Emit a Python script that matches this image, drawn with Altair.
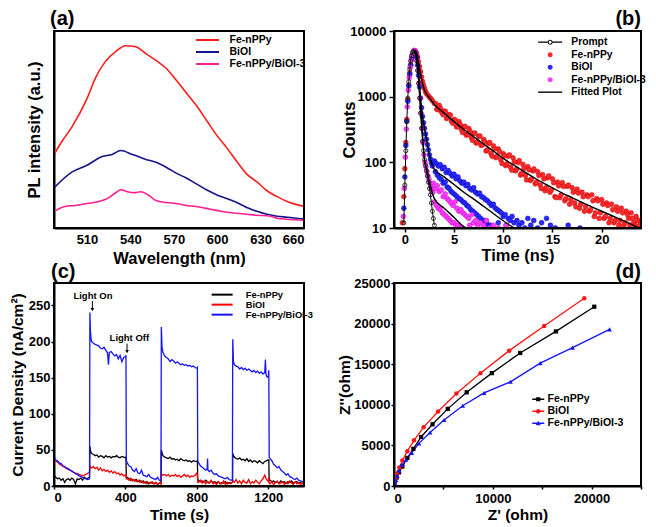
import altair as alt
import pandas as pd

FONT = "Liberation Sans"

# ---------------- (a) PL spectra ----------------
A_SERIES = ["Fe-nPPy", "BiOI", "Fe-nPPy/BiOI-3"]
A_COLORS = ["#ff1c1c", "#14148c", "#ff1f8e"]
A_FE_WL = [487.2, 492.5, 499.5, 510, 515.8, 522.8, 529.8, 536.7, 543.7, 550.7, 557.7, 564.7, 571.6,
           578.6, 585.6, 592.6, 599.5, 606.5, 613.5, 620.5, 627.5, 634.4, 641.4, 648.4, 660]
A_FE_I = [75, 88, 103, 132, 153, 170, 180, 186, 185, 178, 171, 163, 151, 138, 125, 110, 95, 82, 68,
          55, 47, 38, 32, 27, 22]
A_BI_WL = [487.2, 499.5, 510, 520.5, 527.4, 533.3, 541.4, 550.7, 557.7, 564.7, 571.6, 578.6, 585.6,
           592.6, 599.5, 606.5, 613.5, 620.5, 627.5, 634.4, 641.4, 648.4, 660]
A_BI_I = [41, 57, 64, 73, 75, 79, 75, 70, 67, 62, 56, 51, 45, 39, 34, 30, 26, 21, 17, 14, 12, 11, 9]
A_CO_WL = [487.2, 494.9, 501.9, 510, 518.1, 524, 529.8, 533.3, 537.9, 542.6, 547.2, 553, 557.7, 564.7,
           571.6, 578.6, 585.6, 592.6, 599.5, 606.5, 613.5, 620.5, 627.5, 636.8, 641.4, 648.4, 660]
A_CO_I = [17, 22, 23, 25, 27, 30, 36, 39, 37, 36, 37, 33, 28, 26, 25, 23, 22, 20, 18, 16, 15, 14, 13,
          12, 10, 9, 8]
A_XTICKS = [510, 540, 570, 600, 630, 660]
A_XDOM = [487.2, 660]
A_YDOM = [0, 201]

# ---------------- (b) TRPL decay ----------------
B_SERIES = ["Prompt", "Fe-nPPy", "BiOI", "Fe-nPPy/BiOI-3", "Fitted Plot"]
B_COLORS = ["#000000", "#ff2a2a", "#2a2aff", "#ff3cff", "#000000"]
B_FE_RISE_T = [-0.25, -0.1, 0.0, 0.1, 0.2, 0.3, 0.4, 0.5, 0.6, 0.7, 0.8, 0.9, 1.0, 1.1, 1.2, 1.3, 1.4,
               1.5, 1.6, 1.7, 1.8, 1.9, 2.0, 2.1, 2.2, 2.35, 2.5, 2.65, 2.8, 3.0]
B_FE_RISE_C = [12, 30, 80, 200, 450, 900, 1500, 2300, 3100, 3900, 4500, 4900, 5000, 4850, 4500, 4000,
               3400, 2850, 2400, 2000, 1700, 1500, 1330, 1200, 1120, 1050, 980, 930, 870, 790]
B_FE_T1 = [3.25, 3.5, 3.75, 4.0, 4.25, 4.5, 4.75, 5.0, 5.25, 5.5, 5.75, 6.0, 6.25, 6.5, 6.75, 7.0, 7.25,
           7.5, 7.75, 8.0, 8.25, 8.5, 8.75, 9.0, 9.25, 9.5, 9.75, 10.0, 10.25, 10.5, 10.75, 11.0, 11.25,
           11.5, 11.75, 12.0, 12.25, 12.5, 12.75, 13.0, 13.25, 13.5, 13.75, 14.0, 14.25, 14.5, 14.75,
           15.0, 15.25, 15.5, 15.75, 16.0, 16.25, 16.5, 16.75, 17.0, 17.25, 17.5, 17.75, 18.0, 18.25,
           18.5, 18.75, 19.0, 19.25, 19.5, 19.75, 20.0, 20.25, 20.5, 20.75, 21.0, 21.25, 21.5, 21.75,
           22.0, 22.25, 22.5, 22.75, 23.0, 23.25, 23.5, 23.75]
B_FE_C1 = [643, 733, 579, 603, 466, 531, 420, 447, 347, 417, 316, 347, 259, 327, 239, 275, 196, 248, 181,
           224, 149, 193, 137, 178, 118, 160, 109, 135, 89, 124, 84, 117, 74, 99, 64, 93, 63, 86, 53, 74,
           47, 72, 45, 65, 37, 58, 35, 56, 30, 50, 29, 49, 26, 43, 23, 41, 24, 39, 20, 35, 18, 32, 18, 32,
           15, 28, 14, 27, 14, 24, 12, 23, 12, 21, 11, 20, 11, 18, 14, 17, 12, 15, 13]
B_FE_T2 = [3.125, 3.375, 3.625, 3.875, 4.125, 4.375, 4.625, 4.875, 5.125, 5.375, 5.625, 5.875, 6.125,
           6.375, 6.625, 6.875, 7.125, 7.375, 7.625, 7.875, 8.125, 8.375, 8.625, 8.875, 9.125, 9.375,
           9.625, 9.875, 10.125, 10.375, 10.625, 10.875, 11.125, 11.375, 11.625, 11.875, 12.125, 12.375,
           12.625, 12.875, 13.125, 13.375, 13.625, 13.875, 14.125, 14.375, 14.625, 14.875, 15.125,
           15.375, 15.625, 15.875, 16.125, 16.375, 16.625, 16.875, 17.125, 17.375, 17.625, 17.875,
           18.125, 18.375, 18.625, 18.875, 19.125, 19.375, 19.625, 19.875, 20.125, 20.375, 20.625,
           20.875, 21.125, 21.375, 21.625, 21.875, 22.125, 22.375, 22.625, 22.875, 23.125, 23.375,
           23.625, 23.875]
B_FE_C2 = [783, 632, 659, 532, 594, 480, 524, 394, 442, 351, 376, 285, 352, 269, 296, 216, 279, 204, 252,
           184, 207, 155, 200, 124, 161, 123, 145, 96, 126, 95, 130, 76, 102, 79, 106, 68, 81, 54, 77, 56,
           79, 50, 63, 40, 56, 41, 62, 38, 49, 29, 44, 32, 43, 28, 45, 27, 35, 21, 34, 23, 30, 21, 30, 19,
           26, 17, 26, 17, 23, 15, 22, 14, 19, 13, 18, 13, 17, 12, 16, 11, 14, 11, 13, 11]
B_BI_T = [-0.1, 0.0, 0.1, 0.2, 0.3, 0.4, 0.5, 0.6, 0.7, 0.8, 0.9, 1.0, 1.1, 1.2, 1.3, 1.4, 1.5, 1.6, 1.7,
          1.8, 1.9, 2.0, 2.1, 2.2, 2.3, 2.4, 2.5, 2.6, 2.7, 2.8,
          3.0, 3.1, 3.2, 3.3, 3.4, 3.5, 3.6, 3.7, 3.8, 3.9, 4.0, 4.1, 4.2, 4.3, 4.4, 4.5, 4.6, 4.7, 4.8,
          4.9, 5.0, 5.1, 5.2, 5.3, 5.4, 5.5, 5.6, 5.7, 5.8, 5.9, 6.0, 6.1, 6.2, 6.3, 6.4, 6.5, 6.6, 6.7,
          6.8, 6.9, 7.0, 7.1, 7.2, 7.3, 7.4, 7.5, 7.6, 7.7, 7.8, 7.9, 8.0, 8.1, 8.2, 8.3, 8.4, 8.5, 8.6,
          8.7, 8.8, 8.9, 9.0,
          9.2, 9.4, 9.5, 9.6, 9.8, 10.0, 10.2, 10.3, 10.5, 10.7, 10.9, 11.1, 11.4, 11.6, 11.9, 12.2,
          12.5, 12.8, 13.1, 13.5, 13.9, 14.4, 14.8, 15.3, 16.6, 17.8]
B_BI_C = [20, 60, 180, 420, 850, 1450, 2200, 3000, 3800, 4400, 4850, 5000, 4700, 4000, 3000, 2100, 1400,
          950, 680, 500, 400, 330, 270, 225, 185, 155, 130, 112, 98, 88,
          105, 72, 96, 64, 88, 58, 92, 55, 80, 48, 84, 50, 70, 42, 75, 40, 68, 36, 62, 34, 66, 32, 56,
          30, 60, 28, 52, 27, 48, 25, 50, 24, 44, 22, 46, 21, 40, 19, 38, 18, 41, 17, 35, 16, 33, 15,
          34, 14, 30, 13, 29, 13, 27, 12, 26, 11, 24, 11, 22, 10, 23,
          20, 19, 12, 18, 17, 15, 16, 11, 14, 13, 15, 12, 13, 11, 12, 10, 14, 11, 13, 10, 12, 14, 11,
          10, 11, 10]
B_CO_T = [-0.15, -0.05, 0.05, 0.15, 0.25, 0.35, 0.45, 0.55, 0.65, 0.75, 0.85, 0.95, 1.05, 1.15, 1.25,
          1.35, 1.45, 1.55, 1.65, 1.75, 1.85, 1.95, 2.05, 2.15, 2.25, 2.35, 2.45, 2.55, 2.65, 2.75, 2.85,
          2.9, 3.0, 3.1, 3.2, 3.3, 3.4, 3.5, 3.6, 3.7, 3.8, 3.9, 4.0, 4.1, 4.2, 4.3, 4.4, 4.5, 4.6, 4.7,
          4.8, 4.9, 5.0, 5.1, 5.2, 5.3, 5.4, 5.5, 5.6, 5.7, 5.8, 5.9,
          6.1, 6.3, 6.5, 6.6, 6.8, 7.0, 7.2, 7.4, 7.7, 8.0, 8.3, 8.6, 9.0, 9.5, 10.3]
B_CO_C = [15, 40, 120, 320, 700, 1250, 1950, 2800, 3600, 4300, 4800, 5050, 4950, 4400, 3500, 2500, 1600,
          950, 560, 330, 200, 130, 100, 85, 72, 62, 55, 48, 42, 38, 35,
          48, 25, 40, 22, 44, 20, 36, 19, 38, 17, 30, 16, 33, 15, 28, 14, 26, 13, 24, 12, 22, 12, 25,
          11, 20, 11, 18, 10, 19, 10, 17,
          16, 15, 14, 11, 16, 12, 13, 11, 12, 11, 13, 10, 11, 10, 11]
B_PR_T = [-0.1, 0.0, 0.1, 0.2, 0.3, 0.4, 0.5, 0.6, 0.7, 0.8, 0.9, 1.0, 1.1, 1.2, 1.3, 1.4, 1.5, 1.6, 1.7,
          1.8, 1.9, 2.0, 2.1, 2.2, 2.3, 2.4, 2.5, 2.6, 2.7, 2.8, 2.9, 3.0]
B_PR_C = [12, 45, 150, 420, 950, 1700, 2600, 3500, 4200, 4700, 4900, 4800, 4400, 3500, 2500, 1600, 950,
          560, 330, 210, 150, 110, 90, 75, 62, 50, 40, 32, 24, 18, 14, 11]
B_FIT_FE_T = [0.95, 1.0, 1.2, 1.4, 1.6, 1.8, 2.0, 2.2, 2.5, 3, 4, 5, 6, 7, 8, 9, 10, 11, 12, 13, 14, 15,
              16, 17, 18, 19, 20, 21, 22, 23, 23.8]
B_FIT_FE_C = [4950, 5000, 4500, 3200, 2240, 1600, 1260, 1100, 960, 760, 562, 417, 316, 245, 190, 148,
              115, 92, 74, 60, 49, 41, 34, 29, 24.5, 21, 18, 15.5, 13.3, 11.4, 10]
B_FIT_BI_T = [1.0, 1.2, 1.4, 1.6, 1.8, 2.0, 2.2, 2.4, 2.6, 2.8, 3.0, 4, 5, 6, 7, 8, 9, 10, 11]
B_FIT_BI_C = [5000, 4000, 2100, 950, 500, 330, 225, 155, 112, 88, 79, 60, 46, 35, 27.5, 21.4, 16.6,
              12.9, 10.2]
B_FIT_CO_T = [1.0, 1.2, 1.4, 1.6, 1.8, 2.0, 2.2, 2.4, 2.6, 2.8, 3.0, 4, 5, 6, 6.2]
B_FIT_CO_C = [5000, 3900, 2000, 750, 260, 110, 80, 58, 44, 34, 28, 20, 14.5, 10.5, 10]
B_XTICKS = [0, 5, 10, 15, 20]
B_YTICKS = [10, 100, 1000, 10000]
B_XDOM = [-1.1, 24]
B_YDOM = [10, 10000]

# ---------------- (c) photocurrent ----------------
C_SERIES = ["Fe-nPPy", "BiOI", "Fe-nPPy/BiOI-3"]
C_COLORS = ["#000000", "#ff0000", "#1414ff"]
C_T = [0, 10, 20, 30, 40, 50, 60, 70, 80, 90, 100, 110, 120, 130, 140, 150, 160, 170, 180, 190, 199,
       201, 205, 210, 220, 230, 240, 250, 260, 270, 280, 290, 300, 310, 320, 330, 340, 350, 360, 370,
       380, 390, 400, 403,
       405, 410, 420, 430, 440, 450, 460, 470, 480, 490, 500, 510, 520, 530, 540, 550, 560, 570, 580,
       590, 600,
       601, 605, 610, 620, 630, 640, 650, 660, 670, 680, 690, 700, 710, 720, 730, 740, 750, 760, 770,
       780, 790, 800, 803,
       805, 810, 820, 830, 840, 850, 860, 870, 880, 890, 900, 910, 920, 930, 940, 950, 960, 970, 980,
       990, 1000,
       1001, 1005, 1010, 1020, 1030, 1040, 1050, 1060, 1070, 1080, 1090, 1100, 1110, 1120, 1130, 1140,
       1150, 1160, 1170, 1180, 1190, 1200, 1203,
       1205, 1210, 1220, 1230, 1240, 1250, 1260, 1270, 1280, 1290, 1300, 1310, 1320, 1330, 1340, 1350,
       1360, 1370, 1380, 1390, 1400]
C_FE_V = [15, 12, 10, 11, 8, 10, 5, 9, 10, 8, 11, 9, 3, 10, 9, 11, 8, 12, 10, 11, 12,
          55, 48, 45, 44, 42, 43, 40, 42, 41, 39, 42, 40, 41, 39, 41, 40, 42, 40, 39, 41, 40, 39, 40,
          12, 12, 10, 8, 9, 7, 9, 6, 8, 5, 7, 4, 6, 3, 5, 4, 3, 5, 2, 4, 3,
          50, 46, 42, 40, 39, 38, 40, 37, 38, 36, 37, 35, 38, 36, 35, 36, 34, 35, 33, 35, 34, 34, 35,
          8, 8, 6, 7, 5, 8, 6, 4, 7, 5, 6, 4, 6, 3, 5, 4, 6, 3, 5, 4, 5,
          45, 42, 40, 38, 37, 39, 36, 37, 35, 38, 34, 36, 33, 35, 34, 32, 35, 33, 31, 34, 35, 36, 36,
          8, 8, 6, 7, 5, 6, 4, 7, 5, 6, 4, 6, 5, 7, 4, 5, 6, 4, 5, 3, 4]
C_BI_V = [38, 35, 33, 30, 29, 27, 26, 24, 23, 22, 20, 19, 18, 17, 16, 15, 14, 15, 16, 18, 19,
          28, 26, 25, 27, 24, 26, 22, 25, 21, 23, 20, 22, 19, 21, 18, 20, 17, 18, 15, 17, 14, 15, 16,
          10, 10, 8, 11, 7, 9, 6, 8, 5, 7, 4, 6, 3, 5, 4, 6, 3, 5, 2, 4, 3,
          17, 16, 15, 16, 14, 16, 13, 15, 14, 16, 13, 15, 12, 14, 16, 13, 15, 12, 14, 13, 15, 18, 14,
          5, 5, 8, 4, 7, 3, 6, 4, 8, 3, 5, 2, 6, 4, 3, 7, 2, 5, 4, 3, 6,
          8, 6, 5, 9, 4, 7, 3, 8, 5, 4, 9, 3, 6, 4, 8, 5, 3, 7, 10, 15, 9, 6, 12,
          4, 3, 6, 2, 5, 7, 3, 4, 6, 2, 5, 3, 7, 4, 2, 6, 3, 5, 2, 4, 3]
C_CO_T = [0, 5, 10, 20, 30, 40, 50, 60, 70, 80, 90, 100, 110, 120, 130, 140, 150, 160, 170, 180, 190, 199,
          201, 204, 207, 210, 220, 230, 240, 250, 260, 270, 280, 290, 300, 305, 310, 320, 330, 340, 350,
          360, 370, 380, 390, 400, 403,
          405, 410, 420, 430, 440, 450, 460, 470, 480, 490, 500, 510, 520, 530, 540, 550, 560, 570, 580,
          590, 599,
          601, 605, 610, 620, 630, 640, 650, 660, 670, 680, 690, 700, 710, 720, 730, 740, 750, 760, 770,
          780, 790, 800, 803,
          805, 810, 820, 830, 840, 850, 858, 860, 862, 870, 880, 890, 900, 910, 920, 930, 940, 950, 960,
          970, 980, 990, 999,
          1001, 1005, 1010, 1020, 1030, 1040, 1050, 1060, 1070, 1080, 1090, 1100, 1110, 1120, 1130, 1140,
          1150, 1160, 1170, 1180, 1184, 1187, 1190, 1200, 1203,
          1205, 1210, 1220, 1230, 1240, 1250, 1260, 1270, 1280, 1290, 1300, 1310, 1320, 1330, 1340, 1350,
          1360, 1370, 1380, 1390, 1400]
C_CO_V = [44, 38, 36, 35, 32, 31, 28, 27, 25, 24, 22, 21, 19, 17, 16, 14, 13, 12, 11, 10, 9, 10,
          240, 215, 205, 200, 198, 196, 195, 194, 191, 190, 192, 188, 184, 168, 185, 186, 183, 180, 182,
          176, 181, 172, 178, 179, 181,
          35, 32, 28, 27, 22, 20, 24, 18, 17, 22, 15, 14, 13, 16, 12, 11, 10, 9, 12, 8, 7,
          220, 192, 185, 180, 178, 176, 172, 175, 173, 170, 172, 170, 168, 169, 167, 168, 166, 167, 165,
          166, 164, 163, 164,
          35, 32, 28, 26, 24, 22, 24, 38, 22, 20, 22, 18, 16, 17, 14, 13, 12, 11, 10, 12, 9, 8, 8,
          203, 172, 168, 166, 165, 162, 164, 161, 163, 160, 162, 160, 158, 160, 157, 159, 156, 158, 155,
          157, 175, 155, 152, 150, 160,
          40, 38, 35, 30, 28, 25, 27, 22, 20, 18, 15, 17, 13, 12, 10, 9, 11, 8, 7, 6, 5]
C_XTICKS = [0, 200, 400, 600, 800, 1000, 1200, 1400]
C_YTICKS = [0, 50, 100, 150, 200, 250]
C_XDOM = [0, 1400]
C_YDOM = [0, 281]
C_ANN_TEXT = ["Light On", "Light Off"]
C_ANN_T = [218, 422]
C_ANN_V = [263, 205]
C_ARROW_T = [215, 409]
C_ARROW_V0 = [256, 197]
C_ARROW_V1 = [244, 186]

# ---------------- (d) Nyquist ----------------
D_SERIES = ["Fe-nPPy", "BiOI", "Fe-nPPy/BiOI-3"]
D_COLORS = ["#000000", "#ff1414", "#1414ff"]
D_FE_X = [30, 100, 270, 500, 850, 1350, 1960, 2740, 3900, 5440, 7360, 9900, 12770, 16390, 20270]
D_FE_Y = [120, 540, 1040, 1670, 2400, 3460, 4580, 6040, 7600, 9500, 11540, 13900, 16380, 19040, 22080]
D_BI_X = [30, 140, 300, 540, 850, 1350, 2030, 3000, 4460, 6320, 8750, 11660, 15200, 19260]
D_BI_Y = [420, 960, 1540, 2290, 3130, 4290, 5630, 7250, 9170, 11380, 13900, 16670, 19700, 23130]
D_CO_X = [100, 200, 340, 540, 810, 1220, 1790, 2530, 3650, 5070, 6960, 9120, 11790, 14800, 18070, 21820]
D_CO_Y = [300, 750, 1250, 1880, 2580, 3250, 4080, 5250, 6580, 8130, 9880, 11460, 12830, 15130, 17040,
          19290]
D_TICKS = [0, 5000, 10000, 15000, 20000, 25000]
D_DOM = [0, 25000]

PANEL_LABELS = ["(a)", "(b)", "(c)", "(d)"]

# legend symbol paths (unit coordinates, scaled by the legend symbol size)
LINE_A = "M-2.3,0L2.3,0"
LINE_C = "M-3,0L3,0"
B_PATHS = [
    "M-2.4,-0.14L-0.5,-0.14L-0.5,0.14L-2.4,0.14Z M0.5,-0.14L2.4,-0.14L2.4,0.14L0.5,0.14Z "
    "M-0.5,0A0.5,0.5,0,1,1,0.5,0A0.5,0.5,0,1,1,-0.5,0Z M-0.3,0A0.3,0.3,0,1,0,0.3,0A0.3,0.3,0,1,0,-0.3,0Z",
    "M-0.5,0A0.5,0.5,0,1,1,0.5,0A0.5,0.5,0,1,1,-0.5,0Z",
    "M-0.5,0A0.5,0.5,0,1,1,0.5,0A0.5,0.5,0,1,1,-0.5,0Z",
    "M-0.5,0A0.5,0.5,0,1,1,0.5,0A0.5,0.5,0,1,1,-0.5,0Z",
    "M-2.4,-0.14L2.4,-0.14L2.4,0.14L-2.4,0.14Z",
]
D_PATHS = [
    "M-1.2,-0.13L1.2,-0.13L1.2,0.13L-1.2,0.13Z M-0.42,-0.42L0.42,-0.42L0.42,0.42L-0.42,0.42Z",
    "M-1.2,-0.13L1.2,-0.13L1.2,0.13L-1.2,0.13Z M-0.46,0A0.46,0.46,0,1,1,0.46,0A0.46,0.46,0,1,1,-0.46,0Z",
    "M-1.2,-0.13L1.2,-0.13L1.2,0.13L-1.2,0.13Z M0,-0.52L0.5,0.38L-0.5,0.38Z",
]


def frame(name, cols):
    df = pd.DataFrame(cols)
    df["series"] = name
    return df


def panel_label(text, px, py, align):
    df = pd.DataFrame({"label": [text]})
    return alt.Chart(df).mark_text(font=FONT, fontWeight="bold", fontSize=20, align=align,
                                   baseline="bottom", color="black").encode(
        x=alt.value(px), y=alt.value(py), text="label:N")


def box(xf, yf, xdom, ydom):
    # plot border: a hollow rectangle spanning the full axis domains, through the panel's scales
    df = pd.DataFrame({xf: [xdom[0]], xf + "2": [xdom[1]], yf: [ydom[0]], yf + "2": [ydom[1]]})
    return alt.Chart(df).mark_rect(fill="transparent", stroke="black", strokeWidth=1.8).encode(
        x=alt.X(xf + ":Q"), x2=alt.X2(xf + "2:Q"), y=alt.Y(yf + ":Q"), y2=alt.Y2(yf + "2:Q"))


W1, H1 = 250, 197
W2, H2 = 247, 203

# ======== panel (a) ========
df_a = pd.concat([
    frame("Fe-nPPy", {"wl": A_FE_WL, "pl": A_FE_I}),
    frame("BiOI", {"wl": A_BI_WL, "pl": A_BI_I}),
    frame("Fe-nPPy/BiOI-3", {"wl": A_CO_WL, "pl": A_CO_I}),
])
a_lines = alt.Chart(df_a).mark_line(strokeWidth=1.6, interpolate="monotone", clip=True).encode(
    x=alt.X("wl:Q", scale=alt.Scale(domain=A_XDOM, nice=False, zero=False),
            axis=alt.Axis(values=A_XTICKS, title="Wavelength (nm)", ticks=False, labelPadding=5,
                          titleFontSize=16.5, titleY=22)),
    y=alt.Y("pl:Q", scale=alt.Scale(domain=A_YDOM, nice=False),
            axis=alt.Axis(labels=False, ticks=False, title="PL intensity (a.u.)",
                          titleFontSize=16.5, titleX=-12)),
    color=alt.Color("series:N", scale=alt.Scale(domain=A_SERIES, range=A_COLORS),
                    legend=alt.Legend(title=None, orient="none", legendX=141, legendY=3,
                                      symbolType=LINE_A, symbolSize=100, symbolOffset=6.5,
                                      labelOffset=16, symbolStrokeWidth=2, labelFontSize=10.5,
                                      rowPadding=-1, padding=0)),
    detail="series:N",
)
panel_a = alt.layer(a_lines, box("wl", "pl", A_XDOM, A_YDOM),
                    panel_label(PANEL_LABELS[0], -4, -2, "left")).properties(width=W1, height=H1)

# ======== panel (b) ========
XB = alt.X("t:Q", scale=alt.Scale(domain=B_XDOM, nice=False, zero=False),
           axis=alt.Axis(values=B_XTICKS, title="Time (ns)", tickSize=4, labelPadding=1,
                         titleFontSize=16.5, titleY=19))
YB = alt.Y("c:Q", scale=alt.Scale(type="log", domain=B_YDOM, nice=False),
           axis=alt.Axis(values=B_YTICKS, format="d", title="Counts", tickSize=5, labelPadding=3,
                         titleFontSize=16.5, titleX=-37))

b_leg_df = pd.DataFrame({"series": B_SERIES, "t": [1] * 5, "c": [100] * 5})
b_legend = alt.Legend(title=None, orient="none", legendX=144, legendY=6, symbolSize=100,
                      symbolOffset=7, labelOffset=16, symbolStrokeWidth=0, labelFontSize=10.3,
                      rowPadding=1.5, padding=0)
b_leg = alt.Chart(b_leg_df).transform_filter("false").mark_point(filled=True, opacity=1).encode(
    x=XB, y=YB,
    color=alt.Color("series:N", scale=alt.Scale(domain=B_SERIES, range=B_COLORS), legend=b_legend),
    shape=alt.Shape("series:N", scale=alt.Scale(domain=B_SERIES, range=B_PATHS), legend=b_legend),
)


def dots(t, c, fill, stroke):
    df = pd.DataFrame({"t": t, "c": c})
    return alt.Chart(df).mark_point(shape="circle", filled=True, size=24, opacity=1, fill=fill,
                                    stroke=stroke, strokeWidth=0.5, clip=True).encode(x=XB, y=YB)


b_fe = alt.layer(dots(B_FE_RISE_T, B_FE_RISE_C, "#ff2a2a", "#c00000"),
                 dots(B_FE_T1, B_FE_C1, "#ff2a2a", "#c00000"),
                 dots(B_FE_T2, B_FE_C2, "#ff2a2a", "#c00000"))
b_bi = dots(B_BI_T, B_BI_C, "#2a2aff", "#0000b0")
b_co = dots(B_CO_T, B_CO_C, "#ff3cff", "#c000c0")
df_pr = pd.DataFrame({"t": B_PR_T, "c": B_PR_C})
b_pr_line = alt.Chart(df_pr).mark_line(color="black", strokeWidth=1, clip=True).encode(x=XB, y=YB)
b_pr_pts = alt.Chart(df_pr).mark_point(shape="circle", filled=False, size=16, stroke="#222222",
                                        strokeWidth=0.9, opacity=1, clip=True).encode(x=XB, y=YB)
df_fit = pd.concat([
    frame("fe", {"t": B_FIT_FE_T, "c": B_FIT_FE_C}),
    frame("bi", {"t": B_FIT_BI_T, "c": B_FIT_BI_C}),
    frame("co", {"t": B_FIT_CO_T, "c": B_FIT_CO_C}),
])
b_fit = alt.Chart(df_fit).mark_line(color="black", strokeWidth=1.4, interpolate="monotone",
                                    clip=True).encode(x=XB, y=YB, detail="series:N")
panel_b = alt.layer(b_leg, b_fe, b_bi, b_co, b_pr_line, b_pr_pts, b_fit,
                    box("t", "c", B_XDOM, B_YDOM),
                    panel_label(PANEL_LABELS[1], W2, -2, "right")).properties(width=W2, height=H1)

# ======== panel (c) ========
XC = alt.X("t:Q", scale=alt.Scale(domain=C_XDOM, nice=False),
           axis=alt.Axis(values=C_XTICKS, format="d", title="Time (s)", tickSize=3, labelPadding=2,
                         titleFontSize=15.5, titleY=21))
YC = alt.Y("v:Q", scale=alt.Scale(domain=C_YDOM, nice=False),
           axis=alt.Axis(values=C_YTICKS, title="Current Density (nA/cm²)", tickSize=3,
                         labelPadding=1, titleFontSize=15.5, titleX=-29))
df_c = pd.concat([
    frame("Fe-nPPy", {"t": C_T, "v": C_FE_V}),
    frame("BiOI", {"t": C_T, "v": C_BI_V}),
    frame("Fe-nPPy/BiOI-3", {"t": C_CO_T, "v": C_CO_V}),
])
c_lines = alt.Chart(df_c).mark_line(strokeWidth=1.3, clip=True).encode(
    x=XC, y=YC,
    color=alt.Color("series:N", scale=alt.Scale(domain=C_SERIES, range=C_COLORS),
                    legend=alt.Legend(title=None, orient="none", legendX=155, legendY=7,
                                      symbolType=LINE_C, symbolSize=49, symbolOffset=8.5,
                                      labelOffset=19, symbolStrokeWidth=2, labelFontSize=9.3,
                                      rowPadding=-6, padding=0)),
    detail="series:N",
)
df_ann = pd.DataFrame({"t": C_ANN_T, "v": C_ANN_V, "label": C_ANN_TEXT})
c_text = alt.Chart(df_ann).mark_text(font=FONT, fontWeight="bold", fontSize=9.5, color="black").encode(
    x=XC, y=YC, text="label:N")
df_arrow = pd.DataFrame({"t": C_ARROW_T, "v": C_ARROW_V0, "v1": C_ARROW_V1})
c_rule = alt.Chart(df_arrow).mark_rule(color="black", strokeWidth=1).encode(x=XC, y=YC, y2="v1:Q")
df_head = pd.DataFrame({"t": C_ARROW_T, "v": C_ARROW_V1})
c_head = alt.Chart(df_head).mark_point(shape="triangle-down", filled=True, size=14, color="black",
                                       opacity=1).encode(x=XC, y=YC)
panel_c = alt.layer(c_lines, c_rule, c_head, c_text, box("t", "v", C_XDOM, C_YDOM),
                    panel_label(PANEL_LABELS[2], -3, -1, "left")).properties(width=W1, height=H2)

# ======== panel (d) ========
XD = alt.X("zr:Q", scale=alt.Scale(domain=D_DOM, nice=False),
           axis=alt.Axis(values=D_TICKS, format="d", title="Z' (ohm)", tickSize=3, labelPadding=3,
                         titleFontSize=15.5, titleY=21))
YD = alt.Y("zi:Q", scale=alt.Scale(domain=D_DOM, nice=False),
           axis=alt.Axis(values=D_TICKS, format="d", title="Z''(ohm)", tickSize=3, labelPadding=1,
                         titleFontSize=15.5, titleX=-42))
df_d = pd.concat([
    frame("Fe-nPPy", {"zr": D_FE_X, "zi": D_FE_Y}),
    frame("BiOI", {"zr": D_BI_X, "zi": D_BI_Y}),
    frame("Fe-nPPy/BiOI-3", {"zr": D_CO_X, "zi": D_CO_Y}),
])
d_scale = alt.Scale(domain=D_SERIES, range=D_COLORS)
d_legend = alt.Legend(title=None, orient="none", legendX=138, legendY=111, symbolSize=100,
                      symbolOffset=1, labelOffset=4, symbolStrokeWidth=0, labelFontSize=10.5,
                      rowPadding=1, padding=0)
d_leg_df = pd.DataFrame({"series": D_SERIES, "zr": [1000] * 3, "zi": [1000] * 3})
d_leg = alt.Chart(d_leg_df).transform_filter("false").mark_point(filled=True, opacity=1).encode(
    x=XD, y=YD,
    color=alt.Color("series:N", scale=d_scale, legend=d_legend),
    shape=alt.Shape("series:N", scale=alt.Scale(domain=D_SERIES, range=D_PATHS), legend=d_legend),
)
d_lines = alt.Chart(df_d).mark_line(strokeWidth=1.3, clip=True).encode(
    x=XD, y=YD, color=alt.Color("series:N", scale=d_scale, legend=None), detail="series:N")


def markers(name, shape, size):
    return alt.Chart(df_d).transform_filter(alt.datum.series == name).mark_point(
        shape=shape, filled=True, size=size, opacity=1, clip=True).encode(
        x=XD, y=YD, color=alt.Color("series:N", scale=d_scale, legend=None))


panel_d = alt.layer(d_leg, d_lines, markers("Fe-nPPy", "square", 18), markers("BiOI", "circle", 20),
                    markers("Fe-nPPy/BiOI-3", "triangle-up", 22),
                    box("zr", "zi", D_DOM, D_DOM),
                    panel_label(PANEL_LABELS[3], W2, -1, "right")).properties(width=W2, height=H2)

chart = alt.concat(
    panel_a, panel_b, panel_c, panel_d, columns=2, spacing={"row": 49, "column": 90},
    bounds="flush", align="all"
).resolve_scale(
    x="independent", y="independent", color="independent", shape="independent"
).resolve_legend(
    color="independent", shape="independent"
).properties(
    padding={"left": 0, "top": 0, "right": 0, "bottom": 0}
).configure_view(
    stroke="black", strokeWidth=2
).configure_axis(
    labelFont=FONT, titleFont=FONT, labelFontWeight="bold", titleFontWeight="bold",
    labelFontSize=13, labelColor="black", titleColor="black", domainColor="black",
    domainWidth=2, tickColor="black", tickWidth=1.5, grid=False, zindex=2
).configure_legend(
    labelFont=FONT, labelFontWeight="bold", labelColor="black"
)

chart.save("out.html", embed_options={"renderer": "svg", "actions": False})
